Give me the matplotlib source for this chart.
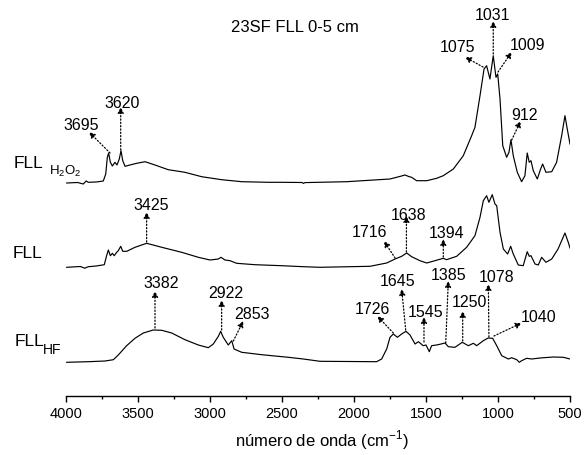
import numpy as np
import matplotlib.pyplot as plt

plt.rcParams['font.family'] = ['Liberation Sans', 'DejaVu Sans']
plt.rcParams['mathtext.fontset'] = 'custom'
plt.rcParams['mathtext.rm'] = 'Liberation Sans'

# FTIR spectra (wavenumber cm-1, stacked intensity, arb. units)
wn_h2o2 = [3995, 3920, 3880, 3860, 3845, 3790, 3741, 3724, 3713, 3704, 3692, 3678,
           3660, 3646, 3630, 3618, 3606, 3590, 3556, 3509, 3451, 3382, 3290, 3174,
           3058, 2919, 2780, 2595, 2514, 2360, 2352, 2340, 2051, 1750, 1704, 1670,
           1646, 1620, 1600, 1565, 1495, 1426, 1380, 1310, 1241, 1183, 1160, 1125,
           1097, 1079, 1056, 1033, 1014, 1002, 986, 967, 940, 924, 910, 894, 866,
           836, 813, 797, 783, 771, 755, 727, 704, 690, 667, 627, 593, 558, 535,
           519, 500]
ab_h2o2 = [213, 213.5, 212, 215, 213.7, 214, 215, 222, 238.7, 243, 233.7, 230,
           233.7, 231, 237, 245.3, 235.3, 229.7, 231, 232.7, 234.3, 231, 226.3, 223.7,
           219.3, 216.3, 214.3, 213.7, 213.7, 213.5, 212.6, 213.4, 214.3, 217, 218.7, 220,
           221, 219.5, 218.7, 215.3, 215.3, 217.7, 220.3, 227, 240.3, 260.3, 268.7, 300.3,
           327, 330.3, 317, 340.3, 318.7, 322, 297, 250.3, 238.7, 243.7, 256.3, 240.3, 223.7,
           214.3, 220.3, 243, 233.7, 235.3, 225.3, 217, 227, 232, 223.7, 224.3, 233.7, 260.3, 280.3,
           267, 252]

wn_fll = [3995, 3900, 3870, 3845, 3790, 3734, 3718, 3706, 3692, 3678, 3665, 3648,
          3637, 3620, 3606, 3578, 3521, 3440, 3335, 3197, 3081, 3000, 2942, 2924,
          2896, 2861, 2815, 2688, 2502, 2352, 2236, 1889, 1773, 1715, 1669, 1634,
          1600, 1542, 1495, 1438, 1380, 1357, 1287, 1218, 1160, 1125, 1102, 1079,
          1063, 1040, 1021, 1009, 986, 963, 933, 912, 894, 859, 825, 797, 783, 771,
          743, 720, 697, 667, 627, 583, 535, 512, 500]
ab_fll = [128.7, 129.5, 127.8, 129.3, 130, 131.3, 140.3, 146, 140.3, 142.7, 140.3, 143.7,
          145.3, 149.7, 144.7, 144.7, 148.7, 152.7, 148.7, 143.7, 138.7, 136, 137, 138.7,
          136, 135.3, 132.7, 131.3, 130.3, 129.3, 128.7, 129.7, 133, 137, 139.7, 143,
          139.3, 135.3, 133, 135.3, 137.7, 136.3, 139.7, 148.7, 160.3, 178.7, 195.3, 200.3,
          193.7, 201.3, 192, 190.3, 163.7, 147, 142, 149.7, 142, 131, 130.3, 144.3, 139.7, 140.3,
          132, 131, 138.7, 133.7, 137, 147, 163, 153.7, 148]

wn_hf = [3995, 3845, 3729, 3671, 3637, 3579, 3521, 3463, 3394, 3335, 3266, 3174,
         3081, 3012, 2977, 2942, 2926, 2908, 2873, 2849, 2833, 2780, 2641, 2456,
         2352, 2236, 1843, 1808, 1773, 1750, 1727, 1699, 1669, 1639, 1611, 1576,
         1553, 1519, 1500, 1477, 1461, 1415, 1368, 1345, 1299, 1248, 1206, 1171,
         1148, 1102, 1068, 1037, 1009, 974, 928, 905, 870, 852, 836, 801, 766,
         708, 616, 546, 500]
ab_hf = [33.7, 34.3, 35, 36.3, 41, 50.3, 57.7, 63, 66, 65.7, 63, 56.3,
         51, 48.3, 52, 59.7, 64.7, 58.7, 51, 55.3, 47, 43.7, 41.3, 38.7,
         37, 34.7, 34.3, 37, 47, 58.7, 62, 58.7, 62, 64.7, 61, 52,
         54.3, 50.3, 51, 44.3, 50.3, 51.3, 53, 49.3, 48.7, 53.7, 50.3, 52.7,
         50.3, 55.3, 58, 57.7, 50.3, 40.3, 37, 38.3, 36.3, 33.7, 35.3, 37.7, 37,
         38, 39, 38.7, 37]

# peak labels: text, arrow tail (on spectrum), arrow tip, text centre
peaks = [
    ('3695', (3694, 243), (3840, 264), (3896, 272)),
    ('3620', (3620, 246), (3620, 289), (3611, 294)),
    ('1075', (1104, 329), (1229, 339), (1278, 350)),
    ('1031', (1033, 342), (1033, 375), (1035, 382)),
    ('1009', (1000, 324), (905, 344), (792, 352)),
    ('912', (905, 256), (843, 275), (813, 282)),
    ('3425', (3440, 154), (3440, 184), (3410, 191)),
    ('1716', (1715, 138), (1792, 155), (1889, 164)),
    ('1638', (1636, 144), (1636, 180), (1622, 181.5)),
    ('1394', (1380, 139), (1380, 157), (1356, 163.5)),
    ('3382', (3382, 68), (3382, 105), (3340, 113)),
    ('2922', (2919, 66), (2919, 96), (2892, 104)),
    ('2853', (2838, 55), (2769, 75), (2705, 82)),
    ('1726', (1727, 63), (1838, 80), (1870, 87)),
    ('1645', (1641, 66), (1669, 107), (1698, 116)),
    ('1545', (1514, 54), (1514, 79), (1502, 84)),
    ('1385', (1363, 53), (1345, 115), (1340, 121.5)),
    ('1250', (1245, 55), (1245, 85), (1201, 94)),
    ('1078', (1063, 59), (1067, 112), (1007, 120)),
    ('1040', (1028, 60), (836, 73), (715, 79.5)),
]

W, H = 584, 456
fig = plt.figure(figsize=(W / 100, H / 100), dpi=100)
ax = fig.add_axes([66 / W, (H - 397) / H, (570 - 66) / W, 397 / H])

for wn, ab in [(wn_h2o2, ab_h2o2), (wn_fll, ab_fll), (wn_hf, ab_hf)]:
    ax.plot(wn, ab, color='k', lw=0.85)

for label, tail, tip, txt in peaks:
    ax.annotate('', xy=tip, xytext=tail,
                arrowprops=dict(arrowstyle='-|>', ls=':', lw=0.9, color='k',
                                mutation_scale=9, shrinkA=0, shrinkB=0))
    ax.text(txt[0], txt[1], label, ha='center', va='center', fontsize=11.5)

ax.set_xlim(4000, 500)
ax.set_ylim(0, 397)
ax.set_xticks(np.arange(4000, 499, -500))
ax.set_xticks(np.arange(3750, 500, -500), minor=True)
ax.tick_params(axis='x', which='major', direction='out', length=4, width=1,
               labelsize=10.5, pad=3)
ax.tick_params(axis='x', which='minor', direction='out', length=2.2, width=1)
ax.set_yticks([])
for s in ['left', 'right', 'top']:
    ax.spines[s].set_visible(False)
ax.spines['bottom'].set_linewidth(1)

fig.text(295 / W, 1 - 27 / H, '23SF FLL 0-5 cm', ha='center', va='center', fontsize=12)
fig.text(322 / W, 1 - 440 / H, r'número de onda (cm$^{\mathregular{-1}}$)',
         ha='center', va='center', fontsize=12)

fig.text(14 / W, 1 - 164 / H, 'FLL', ha='left', va='center', fontsize=12.5)
fig.text(49 / W, 1 - 171 / H, r'H$_\mathregular{2}$O$_\mathregular{2}$',
         ha='left', va='center', fontsize=9.5)
fig.text(13 / W, 1 - 254 / H, 'FLL', ha='left', va='center', fontsize=12.5)
fig.text(15 / W, 1 - 341 / H, 'FLL', ha='left', va='center', fontsize=12.5)
fig.text(43 / W, 1 - 350 / H, 'HF', ha='left', va='center', fontsize=10)

fig.savefig('out.png', dpi=100)
